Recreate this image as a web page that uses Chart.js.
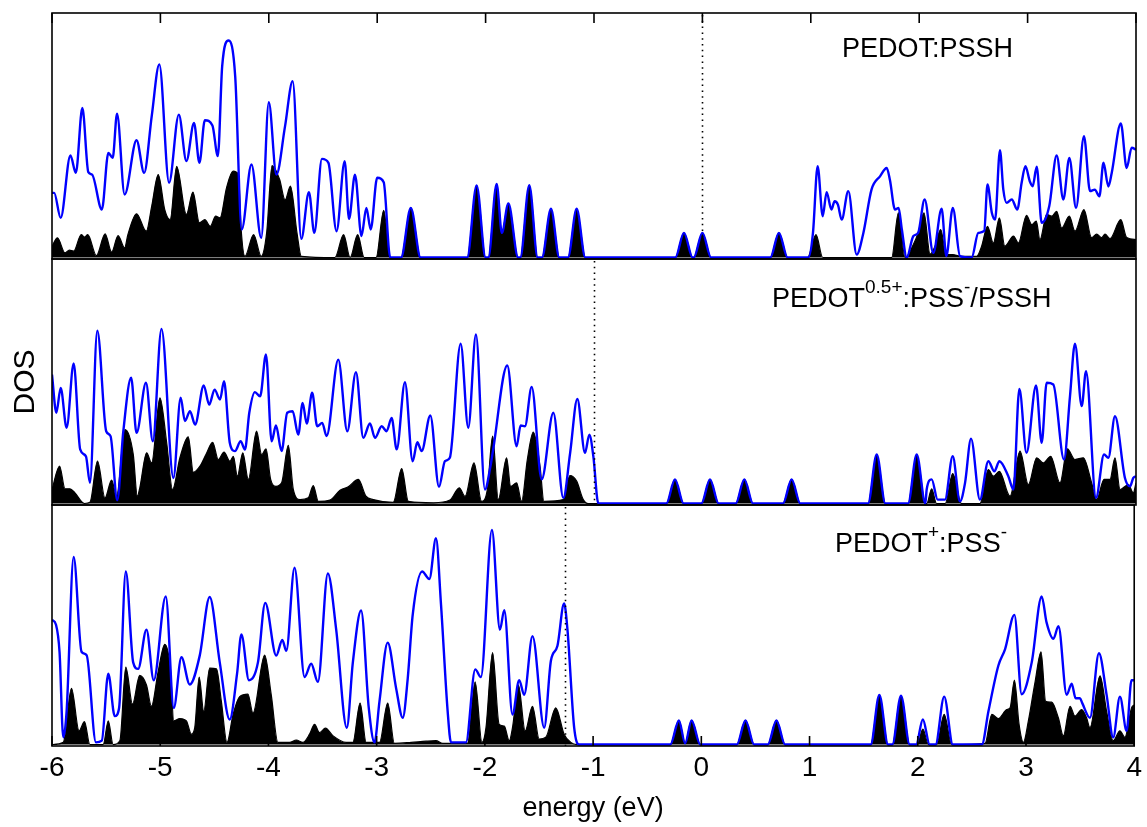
<!DOCTYPE html>
<html lang="en">
<head>
<meta charset="UTF-8">
<title>DOS PEDOT:PSS</title>
<script src="https://cdn.jsdelivr.net/npm/chart.js@4.4.0/dist/chart.umd.min.js"></script>
<style>
  body { margin: 0; background: #fff; }
  #wrap { position: relative; width: 1147px; height: 827px; overflow: hidden; }
  canvas { position: absolute; left: 0; }
</style>
</head>
<body>
<div id="wrap">
  <canvas id="p1" width="1147" height="270" style="top:0px"></canvas>
  <canvas id="p2" width="1147" height="265" style="top:250px"></canvas>
  <canvas id="p3" width="1147" height="332" style="top:495px"></canvas>
</div>
<script>
// energy (eV), DOS in arbitrary units (100 = panel height)
const energyRange = [-6, 4];
const fermiLevels = [0, -1.0, -1.26];

// PEDOT:PSSH
const p1Total = [
  [-6.00,26.3],[-5.98,26.3],[-5.92,16.1],[-5.83,41.5],[-5.78,34.4],[-5.72,60.8],[-5.665,34.7],[-5.63,33.7],
  [-5.54,19.5],[-5.48,42.5],[-5.44,40.5],[-5.40,58.5],[-5.33,25.6],[-5.22,47.7],[-5.15,34.4],[-5.08,57.5],
  [-5.01,78.5],[-4.92,30.4],[-4.83,58.1],[-4.76,39.2],[-4.69,54.7],[-4.64,38.5],[-4.59,55.8],[-4.52,53.7],
  [-4.47,41.2],[-4.43,77.8],[-4.37,88.2],[-4.31,73.7],[-4.25,11.4],[-4.16,37.8],[-4.07,8.0],[-4.00,63.1],
  [-3.93,33.7],[-3.85,53.4],[-3.78,71.7],[-3.70,7.6],[-3.63,26.6],[-3.58,10.0],[-3.51,40.1],[-3.45,38.5],
  [-3.375,10.7],[-3.30,39.2],[-3.26,15.7],[-3.205,33.7],[-3.145,8.7],[-3.10,20.2],[-3.06,11.4],[-3.00,32.4],
  [-2.94,30.6],[-2.88,0],[-2.78,0],[-2.69,20.2],[-2.60,0],
  [-2.17,0],[-2.083,29.3],[-2.00,0],[-1.975,0],[-1.898,29.9],[-1.85,10],[-1.79,22.0],[-1.70,0],[-1.68,0],
  [-1.597,29.4],[-1.52,0],[-1.48,0],[-1.397,19.8],[-1.32,0],[-1.24,0],[-1.16,19.8],[-1.08,0],
  [-0.25,0],[-0.17,10],[-0.09,0],[-0.08,0],[0.0,10],[0.08,0],[0.626,0],[0.706,10],[0.786,0],
  [0.977,0],[1.02,10],[1.063,37.1],[1.11,16.8],[1.146,26.6],[1.19,19.5],[1.22,22.9],[1.25,21.5],[1.285,15.4],
  [1.346,27.0],[1.423,1.2],[1.485,10.0],[1.56,27.6],[1.64,33.1],[1.70,36.4],[1.73,31.5],[1.777,19.5],
  [1.81,20.2],[1.84,11.4],[1.885,0],[1.946,8.7],[1.99,10],[2.05,23.6],[2.13,1.9],[2.207,19.8],[2.25,0.6],
  [2.31,20.2],[2.376,0.6],[2.484,0],[2.545,10],[2.60,10.8],[2.63,29.7],[2.67,18.2],[2.70,15.4],[2.745,43.6],
  [2.776,27.6],[2.807,22.2],[2.854,23.6],[2.905,19.5],[2.945,30.4],[2.98,37.1],[3.02,31.0],[3.047,29.0],
  [3.084,36.9],[3.13,14.1],[3.20,20.9],[3.268,41.5],[3.33,23.6],[3.385,40.5],[3.447,20.2],[3.52,49.3],
  [3.576,27.0],[3.62,27.6],[3.662,24.9],[3.70,38.5],[3.745,28.9],[3.776,34.4],[3.86,54.5],[3.914,36.4],
  [3.96,44.6],[4.0,43.9]
];
const p1Partial = [
  [-6.00,4.6],[-5.95,8.0],[-5.88,1.9],[-5.84,3.0],[-5.80,2.6],[-5.73,9.3],[-5.70,8.3],[-5.67,9.3],[-5.59,0.8],
  [-5.51,9.6],[-5.45,2.2],[-5.39,8.9],[-5.33,3.9],[-5.30,9.3],[-5.22,17.8],[-5.13,10.7],[-5.08,20.9],
  [-5.02,33.7],[-4.96,19.5],[-4.91,15.4],[-4.85,37.1],[-4.76,17.5],[-4.70,26.6],[-4.64,14.1],[-4.59,15.4],
  [-4.54,12.7],[-4.49,16.8],[-4.45,16.1],[-4.39,28.3],[-4.33,35.1],[-4.28,33.7],[-4.255,11.4],[-4.22,0.5],
  [-4.14,9.3],[-4.07,0.5],[-4.02,10],[-3.97,37.4],[-3.90,31.7],[-3.85,23.4],[-3.80,29.0],[-3.74,10],
  [-3.70,0.5],[-3.39,0],[-3.31,9.3],[-3.25,0],[-3.18,9.3],[-3.12,0],[-3.01,0],[-2.94,19.2],[-2.88,0],
  [-2.78,0],[-2.69,20.2],[-2.60,0],
  [-2.17,0],[-2.083,29.3],[-2.00,0],[-1.975,0],[-1.898,29.9],[-1.85,10],[-1.79,22.0],[-1.70,0],[-1.68,0],
  [-1.597,29.4],[-1.52,0],[-1.48,0],[-1.397,19.8],[-1.32,0],[-1.24,0],[-1.16,19.8],[-1.08,0],
  [-0.25,0],[-0.17,10],[-0.09,0],[-0.08,0],[0.0,10],[0.08,0],[0.626,0],[0.706,10],[0.786,0],
  [0.97,0],[1.048,9.3],[1.11,0],[1.746,0],[1.808,18.2],[1.87,0],[1.946,5.3],[1.99,10],[2.044,18.2],
  [2.10,1.4],[2.146,4.6],[2.198,11.4],[2.25,1.2],[2.31,1.2],[2.376,0.5],[2.53,0.5],[2.576,4.6],[2.63,12.7],
  [2.684,5.9],[2.74,16.1],[2.79,4.6],[2.87,8.7],[2.915,5.9],[2.99,17.1],[3.038,13.4],[3.08,14.8],
  [3.114,7.3],[3.176,17.5],[3.222,16.8],[3.268,18.8],[3.315,12.0],[3.385,16.8],[3.437,10.7],[3.52,19.5],
  [3.59,8.1],[3.637,9.5],[3.684,8.1],[3.714,9.5],[3.76,7.7],[3.86,15.4],[3.914,8.1],[4.0,7.3]
];

// PEDOT0.5+:PSS-/PSSH
const p2Total = [
  [-6.00,52.4],[-5.96,36.9],[-5.92,47.0],[-5.865,30.8],[-5.80,56.9],[-5.74,22.0],[-5.687,19.2],[-5.65,8.4],
  [-5.582,70.3],[-5.50,29.4],[-5.46,27.4],[-5.398,1.4],[-5.342,29.4],[-5.27,51.1],[-5.22,28.7],[-5.133,49.1],
  [-5.07,25.3],[-4.99,71.0],[-4.88,10.4],[-4.813,43.0],[-4.774,33.5],[-4.727,37.5],[-4.68,32.1],[-4.60,48.0],
  [-4.55,40.2],[-4.50,46.3],[-4.45,42.3],[-4.413,49.7],[-4.36,24.7],[-4.312,21.3],[-4.26,25.3],[-4.22,21.9],
  [-4.18,36.9],[-4.128,45.3],[-4.08,43.6],[-4.026,60.6],[-3.974,25.3],[-3.934,31.7],[-3.882,21.3],[-3.83,36.9],
  [-3.78,37.5],[-3.728,28.0],[-3.688,40.9],[-3.65,32.5],[-3.60,45.0],[-3.553,31.4],[-3.507,32.8],[-3.467,27.4],
  [-3.359,58.5],[-3.276,29.4],[-3.196,53.4],[-3.128,26.7],[-3.067,32.5],[-3.02,26.7],[-2.959,31.4],
  [-2.913,29.4],[-2.867,34.8],[-2.82,22.0],[-2.744,49.3],[-2.673,17.2],[-2.63,24.9],[-2.59,21.3],[-2.51,35.8],
  [-2.43,6.8],[-2.375,17.2],[-2.33,18.6],[-2.23,65.0],[-2.16,30.8],[-2.089,68.7],[-2.006,5.7],[-1.955,15.2],
  [-1.93,22.0],[-1.80,56.1],[-1.714,23.3],[-1.677,31.7],[-1.637,31.4],[-1.575,47.4],[-1.483,9.8],[-1.375,36.9],
  [-1.283,2.3],[-1.22,20.6],[-1.154,42.5],[-1.083,20.6],[-1.043,28.0],[-1.006,19.2],[-0.96,0],
  [-0.333,0],[-0.253,9.8],[-0.173,0],[-0.01,0],[0.07,9.8],[0.15,0],[0.307,0],[0.387,9.8],[0.467,0],
  [0.743,0],[0.823,9.8],[0.903,0],[1.528,0],[1.608,19.9],[1.688,0],[1.897,0],[1.977,19.9],[2.057,0],
  [2.069,5.7],[2.115,9.8],[2.17,1.6],[2.238,1.6],[2.309,19.2],[2.376,0.9],[2.423,8.4],[2.478,26.4],[2.56,1.6],
  [2.638,17.2],[2.693,13.1],[2.74,17.2],[2.822,11.1],[2.869,5.7],[2.924,46.6],[2.99,20.6],[3.078,48.0],
  [3.13,24.7],[3.176,49.1],[3.237,48.4],[3.336,17.9],[3.391,43.6],[3.437,65.0],[3.499,39.6],[3.539,53.8],
  [3.631,2.3],[3.705,19.9],[3.745,18.6],[3.806,35.5],[3.898,10.4],[3.945,7.0],[3.975,10.4],[4.0,11.1]
];
const p2Partial = [
  [-6.00,5.7],[-5.93,15.2],[-5.88,6.0],[-5.834,6.0],[-5.788,4.3],[-5.70,0],[-5.65,0.5],[-5.58,17.2],
  [-5.511,2.3],[-5.45,9.5],[-5.404,3.0],[-5.327,30.1],[-5.25,19.9],[-5.213,3.0],[-5.19,6.4],[-5.127,20.6],
  [-5.081,16.5],[-5.004,43.0],[-4.942,24.7],[-4.888,5.7],[-4.82,18.6],[-4.743,27.1],[-4.696,12.7],
  [-4.635,15.2],[-4.58,19.9],[-4.518,24.9],[-4.466,17.9],[-4.413,20.9],[-4.358,17.2],[-4.327,19.2],
  [-4.29,11.1],[-4.24,20.6],[-4.189,9.8],[-4.113,29.4],[-4.066,19.9],[-4.026,22.2],[-3.983,9.8],[-3.934,7.0],
  [-3.882,8.4],[-3.82,23.6],[-3.774,5.7],[-3.712,1.6],[-3.636,2.3],[-3.59,7.3],[-3.543,0.9],[-3.436,1.4],
  [-3.343,5.4],[-3.267,6.8],[-3.174,9.8],[-3.104,3.0],[-3.036,1.6],[-2.852,0.5],[-2.774,14.2],[-2.713,0.9],
  [-2.48,0.3],[-2.329,1.4],[-2.243,6.4],[-2.19,2.9],[-2.107,16.5],[-2.037,0.9],[-1.984,5.7],[-1.935,27.4],
  [-1.883,1.6],[-1.806,18.6],[-1.769,7.0],[-1.714,8.4],[-1.668,0.9],[-1.615,17.9],[-1.56,29.0],[-1.498,15.2],
  [-1.462,0.9],[-1.283,1.6],[-1.222,11.4],[-1.16,9.1],[-1.099,1.6],[-1.053,0],
  [-0.333,0],[-0.253,9.8],[-0.173,0],[-0.01,0],[0.07,9.8],[0.15,0],[0.307,0],[0.387,9.8],[0.467,0],
  [0.743,0],[0.823,9.8],[0.903,0],[1.528,0],[1.608,19.9],[1.688,0],[1.897,0],[1.977,19.9],[2.057,0],
  [2.07,0],[2.115,6.0],[2.16,0],[2.24,0],[2.309,12.2],[2.39,0],[2.56,0],[2.638,13.8],[2.684,11.1],
  [2.739,13.1],[2.838,3.0],[2.93,21.3],[3.007,7.7],[3.084,18.6],[3.145,16.5],[3.213,19.2],[3.299,8.4],
  [3.367,22.2],[3.437,17.9],[3.514,18.6],[3.591,8.4],[3.637,1.6],[3.705,9.8],[3.76,9.8],[3.806,18.6],
  [3.853,5.7],[3.93,7.7],[3.975,4.3],[4.0,8.4]
];

// PEDOT+:PSS-
const p3Total = [
  [-6.00,51.8],[-5.963,49.7],[-5.93,38.2],[-5.896,3.0],[-5.865,13.8],[-5.80,77.8],[-5.727,38.5],[-5.68,37.1],
  [-5.594,0.9],[-5.54,1.6],[-5.48,29.4],[-5.42,11.8],[-5.38,15.2],[-5.318,71.8],[-5.25,34.1],[-5.204,31.4],
  [-5.127,47.7],[-5.06,26.7],[-4.949,61.5],[-4.875,15.2],[-4.804,36.2],[-4.727,24.9],[-4.635,36.9],
  [-4.543,61.2],[-4.45,34.1],[-4.358,10.4],[-4.29,29.4],[-4.25,45.7],[-4.18,26.7],[-4.097,34.1],[-4.03,58.8],
  [-3.928,36.9],[-3.872,43.4],[-3.835,38.9],[-3.759,73.4],[-3.666,28.0],[-3.605,33.5],[-3.543,26.0],
  [-3.451,71.0],[-3.374,47.7],[-3.276,7.0],[-3.22,34.1],[-3.144,55.6],[-3.073,15.2],[-3.02,0.9],[-2.974,17.9],
  [-2.898,42.3],[-2.82,23.3],[-2.759,11.1],[-2.713,27.4],[-2.667,53.8],[-2.58,71.8],[-2.513,68.7],
  [-2.452,85.6],[-2.406,58.5],[-2.344,13.8],[-2.313,0.9],[-2.175,0.9],[-2.089,31.2],[-2.037,28.0],
  [-1.935,89.0],[-1.861,47.7],[-1.821,55.8],[-1.745,12.5],[-1.683,26.7],[-1.637,20.6],[-1.56,45.0],
  [-1.452,7.0],[-1.39,34.8],[-1.33,40.9],[-1.268,58.5],[-1.237,47.7],[-1.175,7.0],[-1.13,0],
  [-0.287,0],[-0.207,10.0],[-0.15,0.5],[-0.09,10.0],[-0.01,0],[0.328,0],[0.408,10.0],[0.488,0],
  [0.614,0],[0.694,10.0],[0.774,0],[1.565,0],[1.645,20.6],[1.725,0],[1.765,0],[1.845,20.3],[1.925,0],
  [1.985,0],[2.047,10.4],[2.11,0],[2.164,0],[2.244,19.9],[2.324,0],[2.592,0],[2.653,13.8],[2.745,32.8],
  [2.807,39.6],[2.893,53.8],[2.96,20.9],[3.053,34.1],[3.145,61.5],[3.19,50.7],[3.253,43.9],[3.30,49.1],
  [3.376,20.6],[3.422,25.3],[3.459,19.2],[3.499,19.2],[3.52,17.2],[3.591,11.1],[3.674,37.9],[3.745,20.6],
  [3.806,3.0],[3.868,19.9],[3.93,5.7],[3.975,26.7],[4.0,26.7]
];
const p3Partial = [
  [-6.00,0],[-5.896,0.9],[-5.82,23.3],[-5.75,5.7],[-5.70,9.5],[-5.65,0],[-5.527,0],[-5.48,9.8],[-5.435,0],
  [-5.373,1.6],[-5.318,32.1],[-5.256,16.8],[-5.19,28.7],[-5.127,24.7],[-5.081,15.9],[-5.02,30.1],
  [-4.958,41.6],[-4.906,31.4],[-4.875,9.8],[-4.82,10.8],[-4.758,9.8],[-4.712,4.3],[-4.681,7.0],[-4.64,28.0],
  [-4.598,13.8],[-4.543,31.7],[-4.48,31.4],[-4.435,17.9],[-4.383,0.9],[-4.327,12.5],[-4.266,19.9],
  [-4.19,20.9],[-4.143,13.1],[-4.035,37.1],[-3.974,20.6],[-3.912,0.9],[-3.805,0.9],[-3.743,1.9],
  [-3.682,0.9],[-3.62,4.3],[-3.574,8.4],[-3.528,5.0],[-3.473,6.8],[-3.405,3.7],[-3.282,0.9],[-3.22,0.9],
  [-3.153,17.2],[-3.097,0.9],[-2.974,0.9],[-2.898,17.2],[-2.836,0.5],[-2.682,0.9],[-2.544,1.4],
  [-2.452,1.6],[-2.39,0.5],[-2.16,0.5],[-2.09,26.0],[-2.027,0.9],[-1.99,7.0],[-1.929,38.2],[-1.868,8.4],
  [-1.821,7.7],[-1.775,1.6],[-1.745,7.0],[-1.69,24.7],[-1.628,5.7],[-1.56,15.9],[-1.498,2.3],[-1.437,3.0],
  [-1.345,15.2],[-1.268,4.3],[-1.206,0.9],[-1.15,0],
  [-0.287,0],[-0.207,10.0],[-0.15,0.5],[-0.09,10.0],[-0.01,0],[0.328,0],[0.408,10.0],[0.488,0],
  [0.614,0],[0.694,10.0],[0.774,0],[1.565,0],[1.645,20.6],[1.725,0],[1.765,0],[1.845,20.3],[1.925,0],
  [1.995,0],[2.047,6.4],[2.10,0],[2.174,0],[2.244,12.5],[2.314,0],
  [2.622,0.5],[2.684,12.5],[2.745,10.8],[2.822,14.5],[2.853,15.2],[2.893,26.7],[2.936,8.4],[2.976,0.9],
  [3.022,9.8],[3.084,26.0],[3.139,38.5],[3.182,17.9],[3.237,17.6],[3.299,11.1],[3.345,3.6],[3.407,15.9],
  [3.453,11.8],[3.514,14.5],[3.56,11.1],[3.591,7.0],[3.684,28.5],[3.745,13.8],[3.806,1.6],[3.868,5.7],
  [3.914,3.0],[3.975,15.2],[4.0,16.5]
];

// label pieces: [text, superscript?]
const label1 = [['PEDOT:PSSH', false]];
const label2 = [['PEDOT', false], ['0.5+', true], [':PSS', false], ['-', true], ['/PSSH', false]];
const label3 = [['PEDOT', false], ['+', true], [':PSS', false], ['-', true]];

const FONT = '"Liberation Sans", Arial, Helvetica, sans-serif';
Chart.defaults.font.family = FONT;
Chart.defaults.color = '#000';

const pts = a => a.map(([x, y]) => ({ x, y }));

// frame, inward ticks, fermi level line and panel caption
const panelDecor = {
  id: 'panelDecor',
  afterDatasetsDraw(chart, args, o) {
    const { ctx, chartArea: a } = chart;
    const x = chart.scales.x;
    ctx.save();

    const fx = Math.round(x.getPixelForValue(o.fermi)) + 0.5;
    ctx.strokeStyle = '#000';
    ctx.lineWidth = 1.6;
    ctx.setLineDash([1.5, 4.3]);
    ctx.beginPath();
    ctx.moveTo(fx, a.top + 2);
    ctx.lineTo(fx, a.bottom);
    ctx.stroke();
    ctx.setLineDash([]);

    ctx.lineWidth = 1.6;
    ctx.strokeRect(a.left, a.top, a.right - a.left, a.bottom - a.top);
    ctx.beginPath();
    for (let v = Math.ceil(x.min); v <= x.max; v++) {
      const px = x.getPixelForValue(v);
      if (o.ticksTop) { ctx.moveTo(px, a.top); ctx.lineTo(px, a.top + 10); }
      if (o.ticksBottom) { ctx.moveTo(px, a.bottom); ctx.lineTo(px, a.bottom - 10); }
    }
    ctx.stroke();

    ctx.fillStyle = '#000';
    ctx.textBaseline = 'alphabetic';
    ctx.textAlign = 'left';
    let lx = a.left + o.labelX;
    const ly = a.top + o.labelY;
    o.label.forEach(([s, sup]) => {
      ctx.font = (sup ? '19px ' : '27px ') + FONT;
      ctx.fillText(s, lx, sup ? ly - 14 : ly);
      lx += ctx.measureText(s).width;
    });

    if (o.yTitle) {
      ctx.translate(26, (a.top + a.bottom) / 2);
      ctx.rotate(-Math.PI / 2);
      ctx.textAlign = 'center';
      ctx.textBaseline = 'middle';
      ctx.font = '30px ' + FONT;
      ctx.fillText(o.yTitle, 0, 0);
    }
    ctx.restore();
  }
};

function makePanel(id, total, partial, deco, pad, showAxis) {
  return new Chart(document.getElementById(id), {
    type: 'line',
    data: {
      datasets: [
        { data: pts(total), borderColor: '#0000ff', borderWidth: 2.4, fill: false, order: 0 },
        { data: pts(partial), borderColor: '#000', backgroundColor: '#000', borderWidth: 1.2, fill: 'origin', order: 1 }
      ]
    },
    options: {
      responsive: false,
      animation: false,
      events: [],
      layout: { padding: pad },
      elements: { point: { radius: 0 }, line: { cubicInterpolationMode: 'monotone' } },
      plugins: { legend: { display: false }, tooltip: { enabled: false }, panelDecor: deco },
      scales: {
        x: {
          type: 'linear', min: energyRange[0], max: energyRange[1], display: showAxis,
          grid: { display: false, drawTicks: false }, border: { display: false },
          ticks: { stepSize: 1, padding: 5, color: '#000', font: { size: 28 }, maxRotation: 0, autoSkip: false },
          title: { display: true, text: 'energy (eV)', color: '#000', font: { size: 27 }, padding: { top: 3, bottom: 0 } }
        },
        y: { min: -0.6, max: 99.4, display: false }
      }
    },
    plugins: [panelDecor]
  });
}

makePanel('p1', p1Total, p1Partial,
  { fermi: fermiLevels[0], ticksTop: true, label: label1, labelX: 790, labelY: 44 },
  { left: 52, right: 11, top: 13, bottom: 11 }, false);
makePanel('p2', p2Total, p2Partial,
  { fermi: fermiLevels[1], label: label2, labelX: 720, labelY: 48, yTitle: 'DOS' },
  { left: 52, right: 11, top: 9, bottom: 10 }, false);
makePanel('p3', p3Total, p3Partial,
  { fermi: fermiLevels[2], ticksBottom: true, label: label3, labelX: 783, labelY: 47 },
  { left: 52, right: 11, top: 10, bottom: 2 }, true);
</script>
</body>
</html>
